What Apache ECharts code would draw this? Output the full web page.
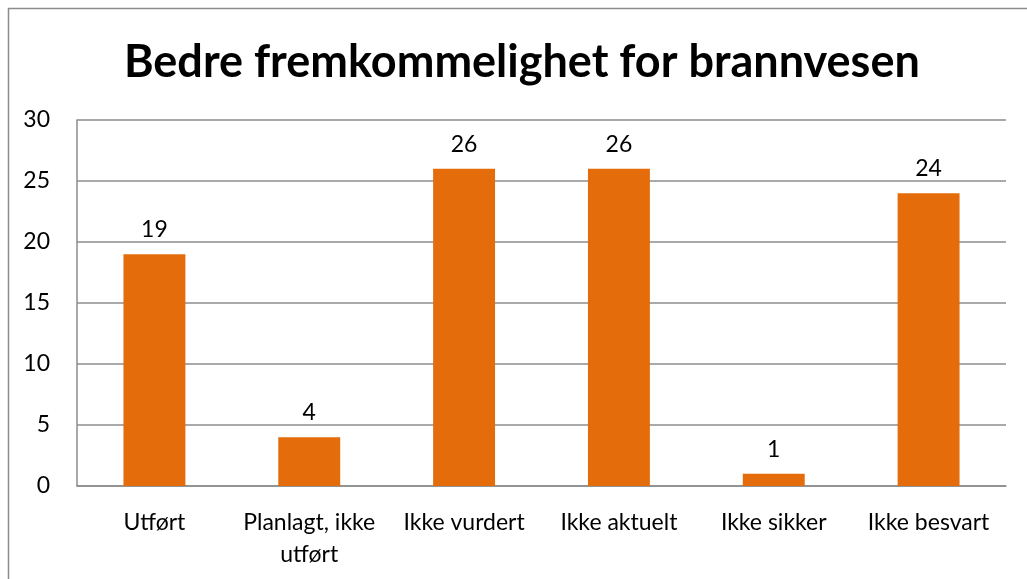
<!DOCTYPE html>
<html>
<head>
<meta charset="utf-8">
<script src="https://cdn.jsdelivr.net/npm/echarts@6/dist/echarts.min.js"></script>
<style>
  html, body { margin: 0; padding: 0; background: #fff; }
  #chart { width: 1027px; height: 579px; }
</style>
</head>
<body>
<div id="chart"></div>
<script>
// 数据
const categories = ['Utført', 'Planlagt, ikke\nutført', 'Ikke vurdert', 'Ikke aktuelt', 'Ikke sikker', 'Ikke besvart'];
const values = [19, 4, 26, 26, 1, 24];
const yTicks = { min: 0, max: 30, interval: 5 };

var myChart = echarts.init(document.getElementById('chart'));

var option =
{
  animation: false,
  textStyle: { fontFamily: 'Lato, "Open Sans", sans-serif' },
  title:
  {
    text: 'Bedre fremkommelighet for brannvesen',
    left: 124,
    top: 40,
    padding: 0,
    textStyle:
    {
      fontFamily: 'Lato, "Open Sans", sans-serif',
      fontSize: 45,
      fontWeight: 'bold',
      color: '#000'
    }
  },
  // 外边框
  graphic:
  [
    {
      type: 'rect',
      shape: { x: 8.5, y: 8.5, width: 1100, height: 700 },
      style: { fill: 'none', stroke: '#8c8c8c', lineWidth: 1.5 },
      silent: true
    }
  ],
  grid:
  {
    left: 77,
    right: 21,
    top: 120,
    bottom: 93
  },
  xAxis:
  {
    type: 'category',
    data: categories,
    axisLine: { show: true, lineStyle: { color: '#8c8c8c', width: 1.5 } },
    axisTick: { show: false },
    axisLabel:
    {
      color: '#000',
      fontSize: 23,
      margin: 21,
      interval: 0,
      lineHeight: 32
    }
  },
  yAxis:
  {
    type: 'value',
    min: yTicks.min,
    max: yTicks.max,
    interval: yTicks.interval,
    axisLine: { show: true, lineStyle: { color: '#8c8c8c', width: 1.5 } },
    axisTick: { show: false },
    splitLine: { lineStyle: { color: '#8c8c8c', width: 1.5 } },
    axisLabel:
    {
      color: '#000',
      fontSize: 23,
      margin: 27
    }
  },
  series:
  [
    {
      type: 'bar',
      data: values,
      barWidth: '40%',
      itemStyle: { color: '#E46C0A' },
      label:
      {
        show: true,
        position: 'top',
        distance: 13,
        color: '#000',
        fontSize: 23
      }
    }
  ]
};

myChart.setOption(option);
</script>
</body>
</html>
